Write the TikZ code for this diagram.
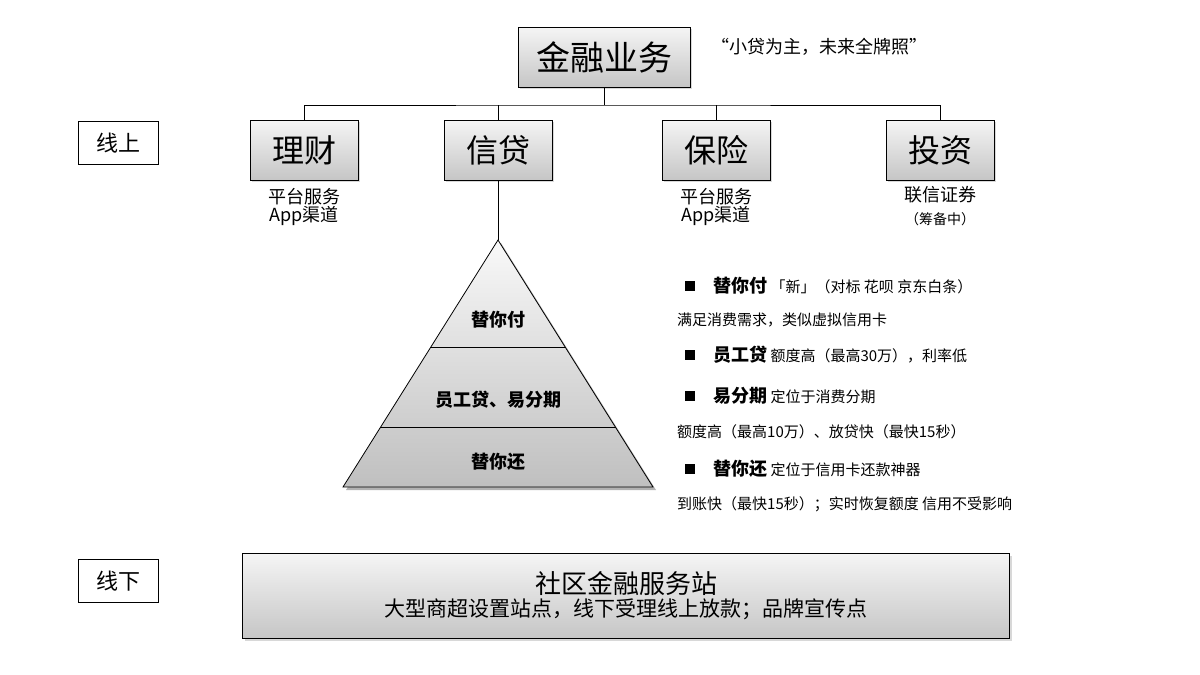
\documentclass[tikz,border=0pt]{standalone}
\usepackage{fontspec}
\setmainfont{Noto Sans CJK SC}
\usetikzlibrary{shadows,calc}
\begin{document}
\begin{tikzpicture}[x=1pt,y=-1pt,
  gbox/.style={draw=black,line width=0.8pt,top color=gray!8,bottom color=gray!45,drop shadow={shadow xshift=2pt,shadow yshift=-2pt,fill=gray!60},inner sep=0pt},
  lbox/.style={draw=black,line width=0.8pt,fill=white,inner sep=0pt,minimum width=80pt,minimum height=43pt,font=\fontsize{22}{24}\selectfont},
  sub/.style={font=\fontsize{18}{20}\selectfont,align=center},
  conn/.style={line width=0.8pt},
  rt/.style={anchor=west,font=\fontsize{15}{17}\selectfont,inner sep=0pt},
  sq/.style={fill=black,minimum size=10pt,inner sep=0pt}]
\useasboundingbox (0,0) rectangle (1200,675);
\node[gbox,minimum width=172pt,minimum height=60pt,font=\fontsize{34}{36}\selectfont] (root) at (604,57) {金融业务};
\node[anchor=west,font=\fontsize{18}{20}\selectfont] (q) at (708,47) {“小贷为主，未来全牌照”};
\foreach \n/\x/\t in {a/304/理财,b/498/信贷,c/716/保险,d/940/投资}{
  \node[gbox,minimum width=108pt,minimum height=60pt,font=\fontsize{32}{34}\selectfont] (\n) at (\x,150) {\t};
}
\coordinate (j) at (604,105);
\draw[conn] (root.south) -- (j);
\draw[conn] (a.north) |- (j) -| (d.north);
\draw[conn] (b.north) -- (b.north|-j);
\draw[conn] (c.north) -- (c.north|-j);
\node[sub] (as) at (304,207) {平台服务\\[-2pt]App渠道};
\node[sub] (cs) at (716,207) {平台服务\\[-2pt]App渠道};
\node[sub,font=\fontsize{18}{20}\selectfont] (ds) at (940,195) {联信证券};
\node[font=\fontsize{14}{16}\selectfont] (ds2) at (940,219) {（筹备中）};
\node[lbox] (on) at (118,143) {线上};
\node[lbox] (off) at (118,581) {线下};
% pyramid
\coordinate (apex) at (498,240);
\coordinate (bl) at (343,487);
\coordinate (br) at (653,487);
\draw[conn] (b.south) -- (apex);
\fill[gray!60] ($(apex)+(3,3)$) -- ($(bl)+(3,3)$) -- ($(br)+(3,3)$) -- cycle;
\shade[top color=gray!5,bottom color=gray!50,draw=black,line width=0.8pt] (apex) -- (bl) -- (br) -- cycle;
\draw[conn] (431,347) -- (565,347);
\draw[conn] (380,427) -- (616,427);
\node[font=\bfseries\fontsize{18}{20}\selectfont] (p1) at (498,320) {替你付};
\node[font=\bfseries\fontsize{18}{20}\selectfont] (p2) at (498,400) {员工贷、易分期};
\node[font=\bfseries\fontsize{18}{20}\selectfont] (p3) at (498,462) {替你还};
% right text
\node[sq] (s1) at (690,286) {};
\node[rt] (t1) at (713,286) {{\bfseries\fontsize{18}{20}\selectfont 替你付}\ 「新」（对标\ 花呗\ 京东白条）};
\node[rt] (t2) at (677,320) {满足消费需求，类似虚拟信用卡};
\node[sq] (s2) at (690,355) {};
\node[rt] (t3) at (713,355) {{\bfseries\fontsize{18}{20}\selectfont 员工贷}\ 额度高（最高30万），利率低};
\node[sq] (s3) at (690,396) {};
\node[rt] (t4) at (713,396) {{\bfseries\fontsize{18}{20}\selectfont 易分期}\ 定位于消费分期};
\node[rt] (t5) at (677,432) {额度高（最高10万）、放贷快（最快15秒）};
\node[sq] (s4) at (690,469) {};
\node[rt] (t6) at (713,469) {{\bfseries\fontsize{18}{20}\selectfont 替你还}\ 定位于信用卡还款神器};
\node[rt] (t7) at (677,504) {到账快（最快15秒）；实时恢复额度\ 信用不受影响};
% bottom
\node[gbox,minimum width=767pt,minimum height=85pt,align=center] (bot) at (626,596)
  {{\fontsize{26}{30}\selectfont 社区金融服务站}\\[2pt]{\fontsize{21}{24}\selectfont 大型商超设置站点，线下受理线上放款；品牌宣传点}};
\end{tikzpicture}
\end{document}
